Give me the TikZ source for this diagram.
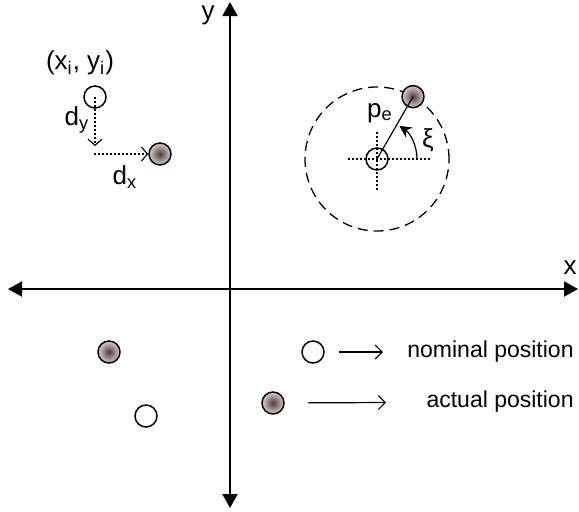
\documentclass[tikz,border=0pt]{standalone}
\usepackage{fontspec}
\setmainfont{Liberation Sans}
\usepackage{tikz}
\usetikzlibrary{arrows.meta,positioning,calc}
\usepackage{xcolor}
\definecolor{actdark}{RGB}{78,62,62}
\definecolor{actlight}{RGB}{216,206,204}
\tikzset{
  nomdot/.style={circle, draw, line width=0.75pt, minimum size=11pt, inner sep=0pt},
  actdot/.style={nomdot, shading=radial, inner color=actdark, outer color=actlight},
  axisline/.style={{Triangle[length=7pt,width=7.5pt]}-{Triangle[length=7pt,width=7.5pt]}, line width=1pt},
  offarrow/.style={-{Straight Barb[length=3pt,width=7pt]}, dash pattern=on 1pt off 1pt, line width=0.6pt},
  legarrow/.style={-{Straight Barb[length=3.5pt,width=7pt]}, line width=0.6pt},
  biglabel/.style={font=\fontsize{13}{15}\selectfont, inner sep=1pt},
  leglabel/.style={font=\fontsize{11.5}{14}\selectfont, inner sep=1pt},
}

\begin{document}
\begin{tikzpicture}[x=0.5pt, y=-0.5pt]
  \useasboundingbox (0,0) rectangle (579,511);

  % axes
  \coordinate (ytop) at (230,2);
  \coordinate (ybot) at (230,508);
  \coordinate (xleft) at (8,289);
  \coordinate (xright) at (578,289);
  \draw[axisline] (ybot) -- (ytop);
  \draw[axisline] (xleft) -- (xright);
  \node[biglabel] (ylab) at (208,15) {y};
  \node[biglabel] (xlab) at (570,268) {x};

  % offset dx, dy
  \node[nomdot] (nomA) at (95,97) {};
  \node[biglabel] (nomAlab) at (80,63) {(x\textsubscript{i}, y\textsubscript{i})};
  \node[actdot] (actA) at (160,154) {};
  \coordinate (dyend) at (95,146);
  \coordinate (dxstart) at (94,154);
  \draw[offarrow] (nomA.center) -- (dyend);
  \draw[offarrow] (dxstart) -- (actA.west);
  \node[biglabel] (dylab) at (77,120) {d\textsubscript{y}};
  \node[biglabel] (dxlab) at (125,177) {d\textsubscript{x}};

  % position error p_e, xi
  \node[nomdot] (nomB) at (377,159) {};
  \node[circle, draw, line width=0.65pt, dash pattern=on 5pt off 3pt, minimum size=72pt, inner sep=0pt] (ring) at (nomB) {};
  \draw[dash pattern=on 1pt off 1pt, line width=0.6pt] ($(nomB)+(-29,0)$) -- ($(nomB)+(53,0)$);
  \draw[dash pattern=on 1pt off 1pt, line width=0.6pt] ($(nomB)+(0,-27)$) -- ($(nomB)+(0,33)$);
  \node[actdot] (actB) at ($(nomB)+(-60:72)$) {};
  \draw[line width=0.6pt] (nomB.center) -- (actB.center);
  \draw[line width=0.6pt, -{Stealth[length=6pt,width=6pt]}] ($(nomB)+(40,0)$) arc[start angle=0, end angle=-56, radius=40];
  \node[biglabel] (pelab) at (380,113) {p\textsubscript{e}};
  \node[biglabel] (xilab) at (428,140) {ξ};

  % scattered points
  \node[actdot] (actC) at (109,352) {};
  \node[nomdot] (nomC) at (146,416) {};

  % legend
  \node[nomdot] (legnom) at (313,352) {};
  \node[leglabel, anchor=east] (legnomtxt) at (576,352) {nominal position};
  \draw[legarrow, shorten <=7pt, shorten >=11pt] (legnom) -- (legnomtxt);
  \node[actdot] (legact) at (273,403) {};
  \node[leglabel, anchor=east] (legacttxt) at (576,402) {actual position};
  \draw[legarrow, shorten <=11.5pt, shorten >=19pt] (legact) -- (legacttxt);
\end{tikzpicture}
\end{document}
